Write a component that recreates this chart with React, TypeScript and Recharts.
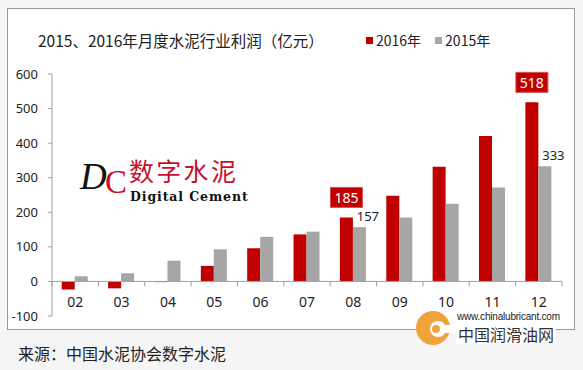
import { BarChart, Bar, XAxis, YAxis, ReferenceLine, LabelList } from "recharts";

const months = ["02", "03", "04", "05", "06", "07", "08", "09", "10", "11", "12"];
const profit2016 = [-23, -20, -2, 45, 96, 136, 185, 248, 332, 421, 518];
const profit2015 = [15, 24, 60, 93, 129, 144, 157, 185, 225, 272, 333];
const labeledMonths = ["08", "12"];
const seriesNames = ["2016年", "2015年"];
const yTicks = [-100, 0, 100, 200, 300, 400, 500, 600];

const RED = "#c00000";
const GRAY = "#a6a6a6";
const AXIS = "#a0a0a0";
const TEXT = "#222";
const FONT = "'Noto Sans', 'Noto Sans CJK SC', sans-serif";
const CJK = "'Noto Sans CJK SC', 'Noto Sans', sans-serif";

const data = months.map((m, i) => ({
  month: m,
  y2016: profit2016[i],
  y2015: profit2015[i],
}));

function BoxLabel(props: any) {
  const { x, y, width, value, index } = props;
  if (!labeledMonths.includes(months[index])) return null;
  const cx = x + width / 2;
  const w = 32;
  const h = 20;
  const top = y - 10 - h;
  return (
    <g>
      <rect x={cx - w / 2} y={top} width={w} height={h} fill={RED} stroke="#e05050" strokeWidth={1} />
      <text x={cx} y={top + h / 2} textAnchor="middle" dominantBaseline="central" fill="#fff" fontSize={14} fontFamily={FONT}>
        {value}
      </text>
    </g>
  );
}

function SideLabel(props: any) {
  const { x, y, width, value, index } = props;
  if (!labeledMonths.includes(months[index])) return null;
  return (
    <text x={x + width + 2} y={y - 11} textAnchor="middle" dominantBaseline="central" fill={TEXT} fontSize={13} fontFamily={FONT}>
      {value}
    </text>
  );
}

function MonthTick({ x, y, payload }: any) {
  return (
    <text x={x} y={y - 15} textAnchor="middle" dominantBaseline="central" fill={TEXT} fontSize={14} fontFamily={FONT}>
      {payload.value}
    </text>
  );
}

// zero line acts as the category axis, with marks between categories
function ZeroAxis(props: any) {
  const { x1, y1, x2 } = props;
  const step = (x2 - x1) / months.length;
  const marks = [];
  for (let i = 0; i <= months.length; i++) {
    const xx = x1 + i * step;
    marks.push(<line key={i} x1={xx} x2={xx} y1={y1} y2={y1 + 5} stroke={AXIS} />);
  }
  return (
    <g>
      <line x1={x1} y1={y1} x2={x2} y2={y1} stroke={AXIS} />
      {marks}
    </g>
  );
}

export default function App() {
  return (
    <div style={{ position: "absolute", left: 0, top: 0, width: 583, height: 370, background: "#f5f5f5", overflow: "hidden" }}>
      <div
        style={{
          position: "absolute",
          left: 7,
          top: 8,
          width: 566,
          height: 320,
          background: "#fff",
          border: "1px solid #999",
        }}
      />
      <div style={{ position: "absolute", left: 38, top: 29, fontSize: 15.5, fontFamily: CJK, color: TEXT, whiteSpace: "nowrap" }}>
        2015、2016年月度水泥行业利润（亿元）
      </div>
      <div style={{ position: "absolute", left: 366, top: 30, display: "flex", alignItems: "center", fontSize: 14, fontFamily: CJK, color: TEXT }}>
        <span style={{ width: 7, height: 7, background: RED, marginRight: 3 }} />
        <span style={{ marginRight: 14 }}>{seriesNames[0]}</span>
        <span style={{ width: 7, height: 7, background: GRAY, marginRight: 3 }} />
        <span>{seriesNames[1]}</span>
      </div>

      {/* Digital Cement watermark */}
      <div style={{ position: "absolute", left: 80, top: 158, fontFamily: "'Liberation Serif', serif", fontStyle: "italic", fontSize: 37, color: "#111", lineHeight: 1 }}>D</div>
      <div style={{ position: "absolute", left: 105, top: 166, fontFamily: "'Liberation Serif', serif", fontSize: 33, color: "#c8102e", lineHeight: 1 }}>C</div>
      <div style={{ position: "absolute", left: 129, top: 158, fontFamily: CJK, fontSize: 25, letterSpacing: 2.3, color: "#c8102e", lineHeight: 1 }}>数字水泥</div>
      <div style={{ position: "absolute", left: 130, top: 191, fontFamily: "'DejaVu Serif', serif", fontWeight: 700, fontSize: 12.5, letterSpacing: 0.9, color: "#111", lineHeight: 1 }}>Digital Cement</div>

      <div style={{ position: "absolute", left: 0, top: 0 }}>
        <BarChart
          width={583}
          height={370}
          data={data}
          margin={{ top: 74, right: 21, bottom: 24, left: 12 }}
          barCategoryGap="21%"
          barGap={0}
        >
          <XAxis dataKey="month" height={30} axisLine={false} tickLine={false} tickSize={0} tickMargin={0} tick={<MonthTick />} interval={0} />
          <YAxis
            width={40}
            domain={[-100, 600]}
            ticks={yTicks}
            interval={0}
            stroke={AXIS}
            tickSize={4}
            tickMargin={10}
            tick={{ fill: TEXT, fontSize: 13, fontFamily: FONT }}
          />
          <Bar dataKey="y2016" fill={RED} isAnimationActive={false}>
            <LabelList dataKey="y2016" content={<BoxLabel />} />
          </Bar>
          <Bar dataKey="y2015" fill={GRAY} isAnimationActive={false}>
            <LabelList dataKey="y2015" content={<SideLabel />} />
          </Bar>
          <ReferenceLine y={0} shape={<ZeroAxis />} />
        </BarChart>
      </div>

      {/* chinalubricant watermark */}
      <svg style={{ position: "absolute", left: 414, top: 308 }} width={42} height={42}>
        <circle cx={19} cy={20} r={17} fill="#f0a33a" />
        <circle cx={24} cy={21} r={8} fill="#fff" />
        <rect x={26} y={17} width={16} height={8} fill="#fff" />
        <circle cx={22} cy={21} r={4} fill="#f0a33a" />
      </svg>
      <div style={{ position: "absolute", left: 457, top: 312, fontFamily: "'Liberation Sans', Arial, sans-serif", fontSize: 10, letterSpacing: -0.2, color: "#222", lineHeight: 1 }}>
        www.chinalubricant.com
      </div>
      <div style={{ position: "absolute", left: 456, top: 326, fontFamily: CJK, fontSize: 16, color: "#333", background: "#fff", lineHeight: 1.1, padding: "0 2px" }}>
        中国润滑油网
      </div>

      <div style={{ position: "absolute", left: 18, top: 344, fontFamily: CJK, fontSize: 16, color: TEXT, whiteSpace: "nowrap", lineHeight: 1.2 }}>
        来源：中国水泥协会数字水泥
      </div>
    </div>
  );
}
